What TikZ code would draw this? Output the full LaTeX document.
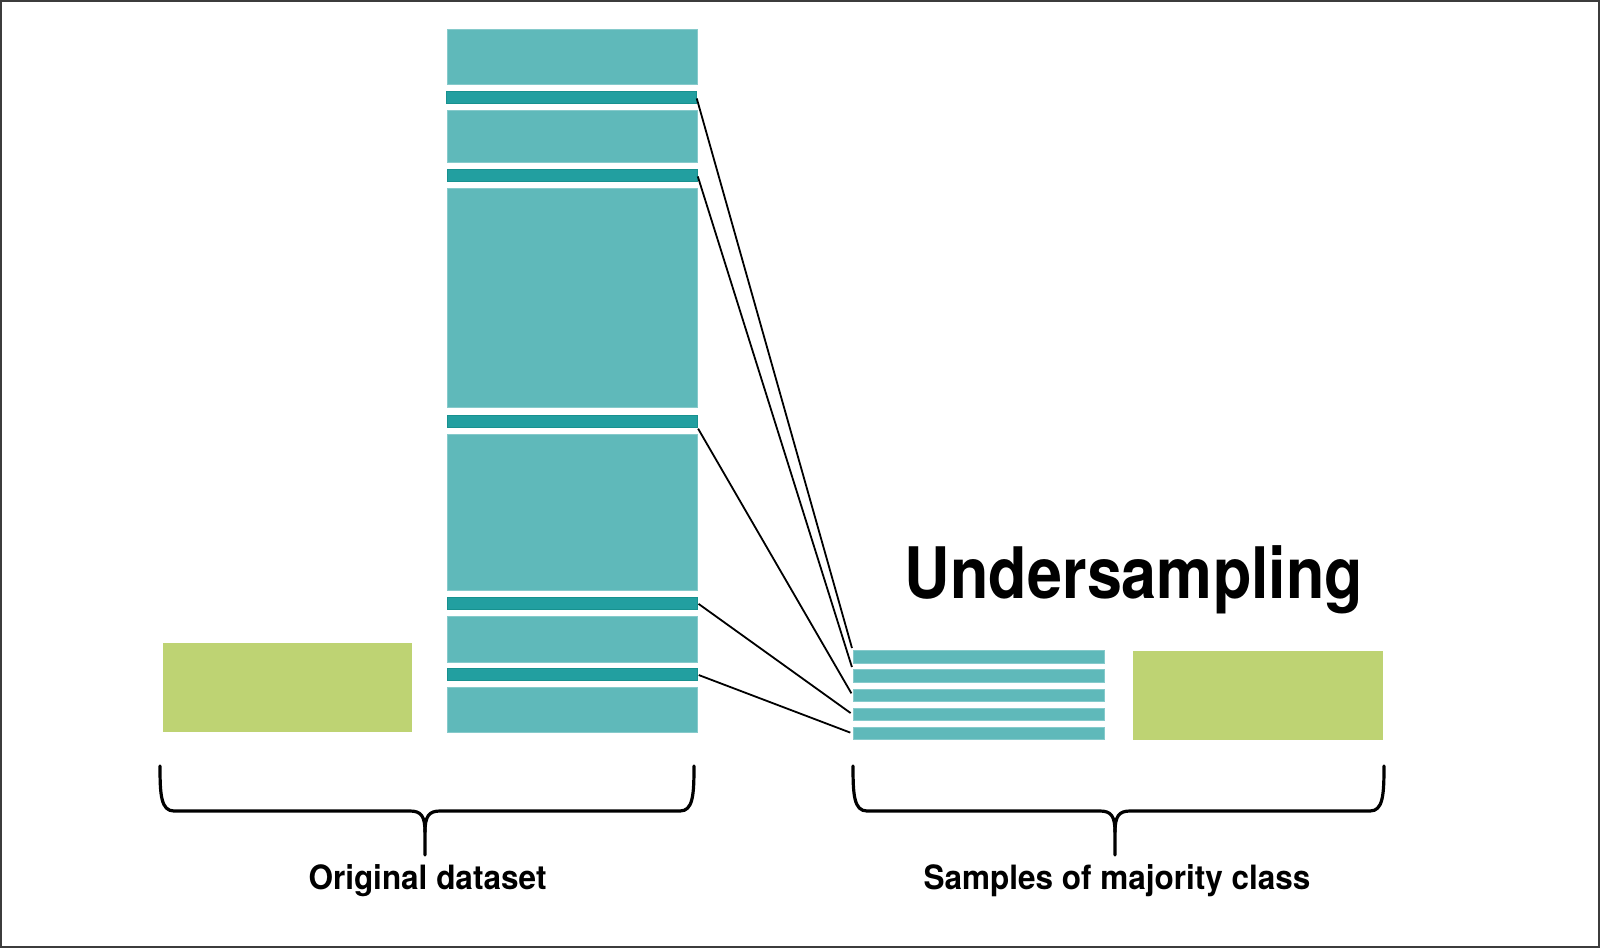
\documentclass[tikz,border=0pt]{standalone}
\usepackage{fontspec}
\setmainfont{TeX Gyre Heros}
\usepackage{graphicx}
\definecolor{blockfill}{HTML}{5FB9BA}
\definecolor{blockedge}{HTML}{86CACB}
\definecolor{stripfill}{HTML}{229FA0}
\definecolor{stripedge}{HTML}{17918F}
\definecolor{greenfill}{HTML}{BED373}
\definecolor{framegray}{HTML}{3C3C3C}
\begin{document}
\begin{tikzpicture}[x=1pt,y=-1pt,
  blockbox/.style={rectangle,inner sep=0pt,fill=blockfill,draw=blockedge,line width=0.7pt,minimum width=250pt},
  stripbox/.style={rectangle,inner sep=0pt,fill=stripfill,draw=stripedge,line width=0.7pt,minimum width=250pt,minimum height=12pt},
  smallstrip/.style={rectangle,inner sep=0pt,fill=blockfill,draw=blockedge,line width=0.7pt,minimum width=251pt,minimum height=12.5pt},
  greenbox/.style={rectangle,inner sep=0pt,fill=greenfill,minimum width=249pt,minimum height=89pt},
  link/.style={draw=black,line width=1.8pt,shorten <=1.5pt,shorten >=2.5pt},
  bracepath/.style={draw=black,line width=3.2pt,line cap=round,line join=round},
  labeltext/.style={inner sep=0pt,anchor=base,font=\fontsize{33.5}{40}\selectfont\bfseries},
  titletext/.style={inner sep=0pt,anchor=base,font=\fontsize{71}{80}\selectfont\bfseries}
]
\useasboundingbox (0,0) rectangle (1600,948);
\fill[white] (0,0) rectangle (1600,948);
\draw[framegray,line width=2pt] (1,1) rectangle (1599,947);

% original column
\node[blockbox,minimum height=55pt] (b1) at (572,56.5) {};
\node[stripbox] (d1) at (571,97) {};
\node[blockbox,minimum height=52pt] (b2) at (572,136) {};
\node[stripbox] (d2) at (572,175) {};
\node[blockbox,minimum height=219pt] (b3) at (572,297.5) {};
\node[stripbox] (d3) at (572,421) {};
\node[blockbox,minimum height=156pt] (b4) at (572,512) {};
\node[stripbox] (d4) at (572,603) {};
\node[blockbox,minimum height=46pt] (b5) at (572,639) {};
\node[stripbox,minimum height=12.5pt] (d5) at (572,674.5) {};
\node[blockbox,minimum height=45pt] (b6) at (572,709.5) {};

\node[greenbox] (g1) at (287.5,687.5) {};

% undersampled set
\node[smallstrip] (m1) at (978.5,657) {};
\node[smallstrip] (m2) at (978.5,676) {};
\node[smallstrip] (m3) at (978.5,695.5) {};
\node[smallstrip] (m4) at (978.5,714.5) {};
\node[smallstrip] (m5) at (978.5,733.5) {};

\node[greenbox,minimum width=250pt] (g2) at (1258,695) {};

% links
\draw[link] (d1.east) -- (m1.north west);
\draw[link] (d2.east) -- (m2.north west);
\draw[link] (d3.south east) -- (m3.west);
\draw[link] (d4.east) -- (m4.west);
\draw[link] (d5.east) -- (m5.west);

% braces
\draw[bracepath] (160,766) .. controls (160,795) and (161,811) .. (174,811)
  -- (410,811) .. controls (421,811) and (425,816) .. (425,832) -- (425,855);
\draw[bracepath] (425,832) .. controls (425,816) and (429,811) .. (440,811)
  -- (680,811) .. controls (693,811) and (694,795) .. (694,766);

\draw[bracepath] (853,766) .. controls (853,795) and (854,811) .. (867,811)
  -- (1100,811) .. controls (1111,811) and (1115,816) .. (1115,832) -- (1115,855);
\draw[bracepath] (1115,832) .. controls (1115,816) and (1119,811) .. (1130,811)
  -- (1370,811) .. controls (1383,811) and (1384,795) .. (1384,766);

% texts
\node[titletext] (title) at (1134,598) {\scalebox{0.885}[1]{Undersampling}};
\node[labeltext] (lab1) at (427.5,889) {\scalebox{0.94}[1]{Original dataset}};
\node[labeltext] (lab2) at (1117,889) {\scalebox{0.94}[1]{Samples of majority class}};
\end{tikzpicture}
\end{document}
